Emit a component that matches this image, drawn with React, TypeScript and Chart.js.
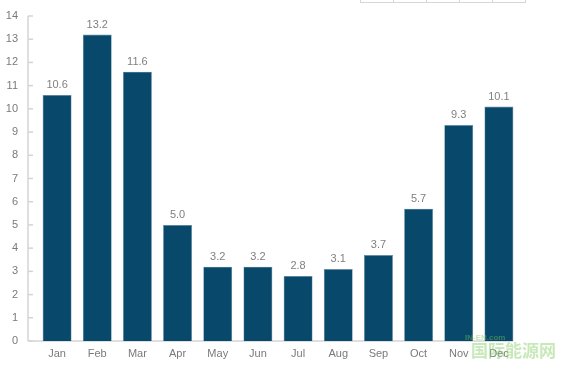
import React, { useEffect, useRef } from "react";
import { Chart, registerables } from "chart.js";

Chart.register(...registerables);

const months = ["Jan", "Feb", "Mar", "Apr", "May", "Jun", "Jul", "Aug", "Sep", "Oct", "Nov", "Dec"];
const values = [10.6, 13.2, 11.6, 5.0, 3.2, 3.2, 2.8, 3.1, 3.7, 5.7, 9.3, 10.1];
const yMin = 0;
const yMax = 14;
const yStep = 1;

const FONT = "'Liberation Sans', Arial, Helvetica, sans-serif";

const axisPlugin = {
  id: "customAxis",
  beforeDatasetsDraw(chart: any) {
    const { ctx, chartArea, scales } = chart;
    const y = scales.y;
    const axisX = chartArea.left - 9;
    const top = y.getPixelForValue(yMax);
    const bottom = y.getPixelForValue(yMin);
    ctx.save();
    ctx.strokeStyle = "#d4d4d4";
    ctx.lineWidth = 1.5;
    ctx.beginPath();
    ctx.moveTo(axisX, top);
    ctx.lineTo(axisX, bottom);
    ctx.stroke();
    for (let v = yMin; v <= yMax; v += yStep) {
      const py = y.getPixelForValue(v);
      ctx.beginPath();
      ctx.moveTo(axisX, py);
      ctx.lineTo(axisX + 5, py);
      ctx.stroke();
    }
    ctx.beginPath();
    ctx.moveTo(axisX, bottom);
    ctx.lineTo(chartArea.right - 6, bottom);
    ctx.stroke();
    ctx.restore();
  },
  afterDatasetsDraw(chart: any) {
    const { ctx } = chart;
    const meta = chart.getDatasetMeta(0);
    ctx.save();
    ctx.fillStyle = "#808080";
    ctx.font = `11px ${FONT}`;
    ctx.textAlign = "center";
    ctx.textBaseline = "middle";
    meta.data.forEach((bar: any, i: number) => {
      ctx.fillText(values[i].toFixed(1), bar.x, bar.y - 10);
    });
    ctx.restore();
  },
};

export default function App() {
  const ref = useRef<HTMLCanvasElement>(null);
  useEffect(() => {
    if (!ref.current) return;
    const chart = new Chart(ref.current, {
      type: "bar",
      data: {
        labels: months,
        datasets: [
          {
            data: values,
            backgroundColor: "#07486b",
            borderColor: "#5d8aa4",
            borderWidth: 0.6,
            categoryPercentage: 1,
            barPercentage: 0.72,
          },
        ],
      },
      options: {
        responsive: false,
        animation: false,
        layout: { padding: { left: 0, right: 45, top: 16, bottom: 0 } },
        plugins: { legend: { display: false }, tooltip: { enabled: false } },
        scales: {
          x: {
            grid: { display: false, drawTicks: false },
            border: { display: false },
            ticks: { color: "#7a7a7a", font: { family: FONT, size: 11 }, padding: 6 },
            afterFit: (s: any) => {
              s.height = 24;
            },
          },
          y: {
            min: yMin,
            max: yMax,
            grid: { display: false, drawTicks: true, tickLength: 19 },
            border: { display: false },
            ticks: { stepSize: yStep, color: "#7a7a7a", font: { family: FONT, size: 11 }, padding: 0 },
            afterFit: (s: any) => {
              s.width = 37;
            },
          },
        },
      },
      plugins: [axisPlugin],
    });
    return () => chart.destroy();
  }, []);

  const cells = [0, 1, 2, 3, 4];
  return (
    <div style={{ position: "fixed", left: 0, top: 0, width: 564, height: 365, background: "#fff", overflow: "hidden" }}>
      <canvas ref={ref} width={564} height={365} style={{ position: "absolute", left: 0, top: 0 }} />
      <div style={{ position: "absolute", left: 360, top: -10, display: "flex" }}>
        {cells.map((c) => (
          <div
            key={c}
            style={{
              width: 32,
              height: 12,
              borderLeft: "1px solid #d6d6d6",
              borderBottom: "1px solid #d6d6d6",
              borderRight: c === 4 ? "1px solid #d6d6d6" : "none",
            }}
          />
        ))}
      </div>
      <div
        style={{
          position: "absolute",
          left: 465,
          top: 333,
          fontFamily: FONT,
          fontSize: 8,
          color: "rgba(120,200,90,0.45)",
          fontWeight: "bold",
        }}
      >
        IN-EN.com
      </div>
      <div
        style={{
          position: "absolute",
          left: 471,
          top: 340,
          fontFamily: "'Noto Sans CJK SC', sans-serif",
          fontSize: 17,
          lineHeight: "20px",
          color: "rgba(130,205,100,0.45)",
          fontWeight: "bold",
        }}
      >
        国际能源网
      </div>
    </div>
  );
}
